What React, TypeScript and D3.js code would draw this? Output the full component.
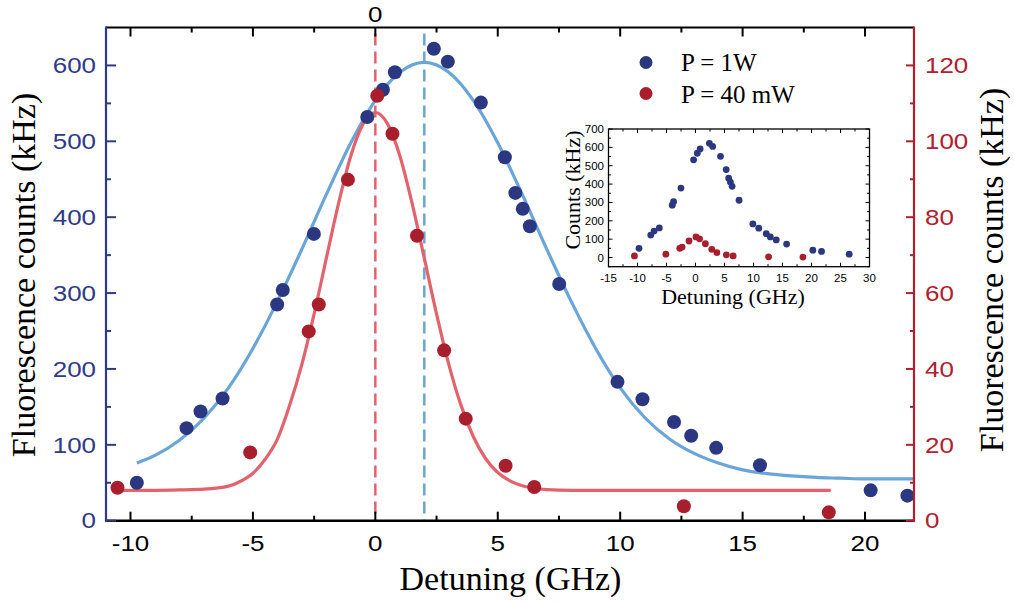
import React from "react";
import * as d3 from "d3";

// ---------- data ----------
const blueX = [-9.74, -7.71, -7.14, -6.24, -4.01, -3.78, -2.51, -0.33, 0.31, 0.8, 2.39, 2.96, 4.31, 5.29, 5.72, 6.02, 6.31, 7.51, 9.89, 10.91, 12.2, 12.9, 13.92, 15.71, 20.23, 21.73, 26.5];
const blueY = [50, 122, 144, 161, 285, 304, 378, 532, 568, 591, 622, 605, 551, 479, 432, 411, 388, 312, 183, 160, 130, 112, 96, 73, 40, 33, 18];

const redX = [-10.53, -5.11, -2.72, -2.31, -1.12, 0.08, 0.7, 1.7, 2.81, 3.69, 5.32, 6.49, 12.6, 18.52];
const redY = [8.7, 18.0, 49.9, 57.0, 89.9, 112, 102, 75.1, 44.9, 26.9, 14.5, 8.9, 3.8, 2.2];

const blueFitX = [-9.74, -9, -8, -7, -6, -5, -4, -3, -2, -1, 0, 1, 2, 3, 4, 5, 6, 7, 8, 9, 10, 11, 12, 13, 14, 15, 16, 17, 18, 19, 20, 22];
const blueFitY = [76, 86, 106, 135, 175, 227, 289, 358, 430, 498, 554, 591, 604, 591, 554, 498, 430, 358, 289, 227, 175, 136, 108, 89, 76, 67, 62, 59, 57, 56, 55, 55];

const redFitX = [-10.55, -9, -8, -7, -6, -5.5, -5, -4.5, -4, -3.5, -3, -2.5, -2, -1.5, -1, -0.5, 0, 0.5, 1, 1.5, 2, 2.5, 3, 3.5, 4, 4.5, 5, 5.5, 6, 7, 8, 10, 14, 18.6];
const redFitY = [8, 8, 8.1, 8.3, 9.1, 10.4, 12.5, 16.2, 21.5, 30.4, 41.2, 54.5, 69.2, 83.7, 96.2, 104.6, 107.6, 104.6, 96.2, 83.7, 69.2, 54.5, 41.2, 30.4, 22.2, 16.4, 12.7, 10.5, 9.2, 8.2, 8, 8, 8, 8];

const centerRed = 0;
const centerBlue = 2;

const xTicks = [-10, -5, 0, 5, 10, 15, 20];
const leftTicks = [0, 100, 200, 300, 400, 500, 600];
const rightTicks = [0, 20, 40, 60, 80, 100, 120];
const insetXTicks = [-15, -10, -5, 0, 5, 10, 15, 20, 25, 30];
const insetYTicks = [0, 100, 200, 300, 400, 500, 600, 700];

const legendLabels = ["P = 1W", "P = 40 mW"];

// ---------- style ----------
const C_BLUE_PT = "#2b3781";
const C_RED_PT = "#a81e2c";
const C_BLUE_LINE = "#6aa5d9";
const C_RED_LINE = "#e3636d";
const C_BLUE_AX = "#2e3a87";
const C_RED_AX = "#b0202e";

const SANS = "'Liberation Sans', Arial, sans-serif";
const SERIF = "'Liberation Serif', 'Times New Roman', serif";
const SX = 1.18; // horizontal stretch of tick label glyphs

export default function App() {
  const W = 1014, H = 604;
  const L = 106, R = 914, T = 27.5, B = 520.7;
  const x = d3.scaleLinear().domain([-11, 22]).range([L, R]);
  const yL = d3.scaleLinear().domain([0, 650]).range([B, T]);
  const yR = d3.scaleLinear().domain([0, 130]).range([B, T]);

  const IL = 608.5, IR = 869.5, IT = 129, IB = 266.7;
  const xi = d3.scaleLinear().domain([-15, 30]).range([IL, IR]);
  const yi = d3.scaleLinear().domain([-50, 700]).range([IB, IT]);

  const blueFit = d3.line<number>().x((d, i) => x(blueFitX[i])).y((d) => yL(d)).curve(d3.curveMonotoneX)(blueFitY) || "";
  const redFit = d3.line<number>().x((d, i) => x(redFitX[i])).y((d) => yR(d)).curve(d3.curveMonotoneX)(redFitY) || "";

  const minorX = d3.range(-10, 22.01, 2.5);
  const minorL = d3.range(50, 650, 100);
  const minorR = d3.range(10, 130, 20);
  const insetMinorX = d3.range(-12.5, 30, 5);
  const insetMinorY = d3.range(-50, 700, 100);

  return (
    <div style={{ position: "absolute", left: 0, top: 0 }}>
      <svg width={W} height={H} viewBox={`0 0 ${W} ${H}`} style={{ display: "block", background: "#fff" }}>
        <defs>
          <clipPath id="plotClip">
            <rect x={L} y={T} width={R - L} height={B - T} />
          </clipPath>
        </defs>
        <rect x={0} y={0} width={W} height={H} fill="#fff" />

        {/* dashed center lines */}
        <line x1={x(centerRed)} x2={x(centerRed)} y1={T + 6} y2={B} stroke={C_RED_LINE} strokeWidth={2.5} strokeDasharray="12,6" />
        <line x1={x(centerBlue)} x2={x(centerBlue)} y1={T + 6} y2={B} stroke={C_BLUE_LINE} strokeWidth={2.5} strokeDasharray="12,6" />

        {/* fits and points */}
        <g clipPath="url(#plotClip)">
          <path d={blueFit} fill="none" stroke={C_BLUE_LINE} strokeWidth={3.2} />
          <path d={redFit} fill="none" stroke={C_RED_LINE} strokeWidth={3.2} />
          {blueX.map((v, i) => (
            <circle key={"b" + i} cx={x(v)} cy={yL(blueY[i])} r={7} fill={C_BLUE_PT} />
          ))}
          {redX.map((v, i) => (
            <circle key={"r" + i} cx={x(v)} cy={yR(redY[i])} r={7} fill={C_RED_PT} />
          ))}
        </g>

        {/* top axis */}
        <line x1={L} x2={R} y1={T} y2={T} stroke="#000" strokeWidth={2.2} />
        {xTicks.map((t) => (
          <line key={"tt" + t} x1={x(t)} x2={x(t)} y1={T} y2={T + 9} stroke="#000" strokeWidth={2} />
        ))}
        {minorX.filter((t) => !xTicks.includes(t)).map((t) => (
          <line key={"tm" + t} x1={x(t)} x2={x(t)} y1={T} y2={T + 5} stroke="#000" strokeWidth={2} />
        ))}
        <text transform={`translate(${x(0)},21.7) scale(${SX},1)`} textAnchor="middle" fontFamily={SANS} fontSize={22} fill="#000">0</text>

        {/* bottom axis */}
        <line x1={L} x2={R} y1={B} y2={B} stroke="#000" strokeWidth={2.4} />
        {xTicks.map((t) => (
          <line key={"bt" + t} x1={x(t)} x2={x(t)} y1={B} y2={B - 9} stroke="#000" strokeWidth={2} />
        ))}
        {minorX.filter((t) => !xTicks.includes(t)).map((t) => (
          <line key={"bm" + t} x1={x(t)} x2={x(t)} y1={B} y2={B - 5} stroke="#000" strokeWidth={2} />
        ))}
        {xTicks.map((t) => (
          <text key={"bl" + t} transform={`translate(${x(t)},551) scale(${SX},1)`} textAnchor="middle" fontFamily={SANS} fontSize={22} fill="#000">
            {t}
          </text>
        ))}
        <text x={510.5} y={590} textAnchor="middle" fontFamily={SERIF} fontSize={34} fill="#000">Detuning (GHz)</text>

        {/* left axis */}
        <line x1={L} x2={L} y1={T - 1} y2={B + 1.2} stroke={C_BLUE_AX} strokeWidth={2.2} />
        {leftTicks.map((t) => (
          <line key={"lt" + t} x1={L} x2={L + 10} y1={yL(t)} y2={yL(t)} stroke={C_BLUE_AX} strokeWidth={2} />
        ))}
        {minorL.map((t) => (
          <line key={"lm" + t} x1={L} x2={L + 5} y1={yL(t)} y2={yL(t)} stroke={C_BLUE_AX} strokeWidth={2} />
        ))}
        {leftTicks.map((t) => (
          <text key={"ll" + t} transform={`translate(96,${yL(t)}) scale(${SX},1)`} dy="0.35em" textAnchor="end" fontFamily={SANS} fontSize={22} fill={C_BLUE_AX}>
            {t}
          </text>
        ))}
        <text transform="translate(35,275) rotate(-90)" textAnchor="middle" fontFamily={SERIF} fontSize={34} fill="#000">
          Fluorescence counts (kHz)
        </text>

        {/* right axis */}
        <line x1={R} x2={R} y1={T - 1} y2={B + 1.2} stroke={C_RED_AX} strokeWidth={2.2} />
        {rightTicks.map((t) => (
          <line key={"rt" + t} x1={R} x2={R - 8} y1={yR(t)} y2={yR(t)} stroke={C_RED_AX} strokeWidth={2} />
        ))}
        {minorR.map((t) => (
          <line key={"rm" + t} x1={R} x2={R - 4} y1={yR(t)} y2={yR(t)} stroke={C_RED_AX} strokeWidth={2} />
        ))}
        {rightTicks.map((t) => (
          <text key={"rl" + t} transform={`translate(925,${yR(t)}) scale(${SX},1)`} dy="0.35em" textAnchor="start" fontFamily={SANS} fontSize={22} fill={C_RED_AX}>
            {t}
          </text>
        ))}
        <text transform="translate(1003,270) rotate(-90)" textAnchor="middle" fontFamily={SERIF} fontSize={34} fill="#000">
          Fluorescence counts (kHz)
        </text>

        {/* legend */}
        <circle cx={646} cy={62.5} r={6.5} fill={C_BLUE_PT} />
        <circle cx={646} cy={93.5} r={6.5} fill={C_RED_PT} />
        <text x={681} y={71} fontFamily={SERIF} fontSize={25} fill="#000">{legendLabels[0]}</text>
        <text x={681} y={103} fontFamily={SERIF} fontSize={25} fill="#000">{legendLabels[1]}</text>

        {/* inset */}
        <g>
          <rect x={IL} y={IT} width={IR - IL} height={IB - IT} fill="#fff" stroke="none" />
          {insetXTicks.map((t) => (
            <g key={"ixt" + t}>
              <line x1={xi(t)} x2={xi(t)} y1={IB} y2={IB - 4} stroke="#000" strokeWidth={1} />
              <line x1={xi(t)} x2={xi(t)} y1={IT} y2={IT + 4} stroke="#000" strokeWidth={1} />
              <text x={xi(t)} y={281.5} textAnchor="middle" fontFamily={SANS} fontSize={11.5} fill="#000">{t}</text>
            </g>
          ))}
          {insetMinorX.map((t) => (
            <g key={"ixm" + t}>
              <line x1={xi(t)} x2={xi(t)} y1={IB} y2={IB - 2.5} stroke="#000" strokeWidth={1} />
              <line x1={xi(t)} x2={xi(t)} y1={IT} y2={IT + 2.5} stroke="#000" strokeWidth={1} />
            </g>
          ))}
          {insetYTicks.map((t) => (
            <g key={"iyt" + t}>
              <line x1={IL} x2={IL + 4} y1={yi(t)} y2={yi(t)} stroke="#000" strokeWidth={1} />
              <line x1={IR} x2={IR - 4} y1={yi(t)} y2={yi(t)} stroke="#000" strokeWidth={1} />
              <text x={604} y={yi(t)} dy="0.35em" textAnchor="end" fontFamily={SANS} fontSize={11.5} fill="#000">{t}</text>
            </g>
          ))}
          {insetMinorY.map((t) => (
            <g key={"iym" + t}>
              <line x1={IL} x2={IL + 2.5} y1={yi(t)} y2={yi(t)} stroke="#000" strokeWidth={1} />
              <line x1={IR} x2={IR - 2.5} y1={yi(t)} y2={yi(t)} stroke="#000" strokeWidth={1} />
            </g>
          ))}
          <rect x={IL} y={IT} width={IR - IL} height={IB - IT} fill="none" stroke="#000" strokeWidth={1.3} />
          {blueX.map((v, i) => (
            <circle key={"ib" + i} cx={xi(v)} cy={yi(blueY[i])} r={3.4} fill={C_BLUE_PT} />
          ))}
          {redX.map((v, i) => (
            <circle key={"ir" + i} cx={xi(v)} cy={yi(redY[i])} r={3.4} fill={C_RED_PT} />
          ))}
          <text x={733} y={304} textAnchor="middle" fontFamily={SERIF} fontSize={22} fill="#000">Detuning (GHz)</text>
          <text transform="translate(580,190) rotate(-90)" textAnchor="middle" fontFamily={SERIF} fontSize={22} fill="#000">Counts (kHz)</text>
        </g>
      </svg>
    </div>
  );
}
